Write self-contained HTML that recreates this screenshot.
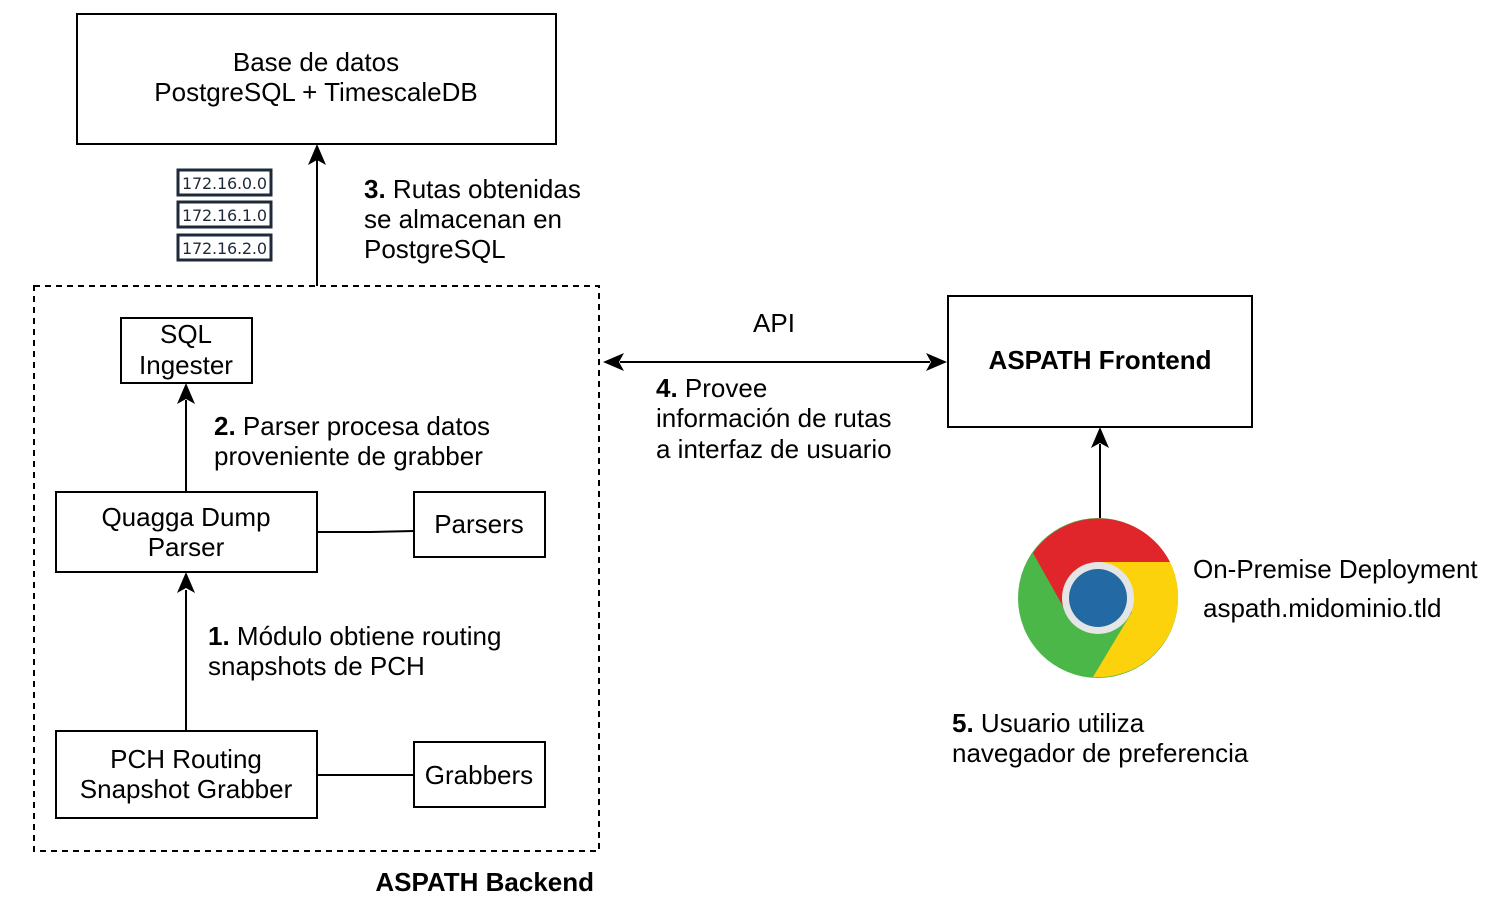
<!DOCTYPE html>
<html><head><style>
html,body{margin:0;padding:0;background:#fff;}
svg{display:block;}
text{font-family:"Liberation Sans",Arial,sans-serif;font-size:26px;fill:#000;}
.ip{font-family:"DejaVu Sans",sans-serif;font-size:16px;fill:#1e2a3a;}
</style></head><body>
<svg width="1486" height="920" viewBox="0 0 1486 920" xmlns="http://www.w3.org/2000/svg">
<g fill="none" stroke="#000" stroke-width="2">
<rect x="77" y="14" width="479" height="130"/>
<rect x="34" y="286" width="565" height="565" stroke-dasharray="6,5"/>
<rect x="121" y="318" width="131" height="65"/>
<rect x="56" y="492" width="261" height="80"/>
<rect x="414" y="492" width="131" height="65"/>
<rect x="56" y="731" width="261" height="87"/>
<rect x="414" y="742" width="131" height="65"/>
<rect x="948" y="296" width="304" height="131"/>
<line x1="317" y1="286" x2="317" y2="160"/>
<line x1="186" y1="492" x2="186" y2="400"/>
<line x1="186" y1="731" x2="186" y2="590"/>
<path d="M317 532 L370 532 L414 531"/>
<line x1="317" y1="775" x2="414" y2="775"/>
<line x1="620" y1="362" x2="930" y2="362"/>
<line x1="1100" y1="518" x2="1100" y2="444"/>
</g>
<g fill="#000">
<path d="M317 144 L308 165 L317 160 L326 165 Z"/>
<path d="M186 383 L177 404 L186 399 L195 404 Z"/>
<path d="M186 572 L177 593 L186 588 L195 593 Z"/>
<path d="M603 362 L624 353 L619 362 L624 371 Z"/>
<path d="M947 362 L926 353 L931 362 L926 371 Z"/>
<path d="M1100 427 L1091 448 L1100 443 L1109 448 Z"/>
</g>
<g fill="#fff" stroke="#1e2a3a" stroke-width="3">
<rect x="178" y="170" width="93" height="25"/>
<rect x="178" y="202" width="93" height="25"/>
<rect x="178" y="235" width="93" height="25"/>
</g>
<text class="ip" x="182" y="189" textLength="85">172.16.0.0</text>
<text class="ip" x="182" y="221" textLength="85">172.16.1.0</text>
<text class="ip" x="182" y="254" textLength="85">172.16.2.0</text>

<text x="316" y="71" text-anchor="middle">Base de datos</text>
<text x="316" y="101" text-anchor="middle">PostgreSQL + TimescaleDB</text>
<text x="364" y="198"><tspan font-weight="bold">3.</tspan> Rutas obtenidas</text>
<text x="364" y="228">se almacenan en</text>
<text x="364" y="258">PostgreSQL</text>
<text x="186" y="343" text-anchor="middle">SQL</text>
<text x="186" y="374" text-anchor="middle">Ingester</text>
<text x="214" y="435"><tspan font-weight="bold">2.</tspan> Parser procesa datos</text>
<text x="214" y="465">proveniente de grabber</text>
<text x="186" y="526" text-anchor="middle">Quagga Dump</text>
<text x="186" y="556" text-anchor="middle">Parser</text>
<text x="479" y="533" text-anchor="middle">Parsers</text>
<text x="208" y="645"><tspan font-weight="bold">1.</tspan> Módulo obtiene routing</text>
<text x="208" y="675">snapshots de PCH</text>
<text x="186" y="768" text-anchor="middle">PCH Routing</text>
<text x="186" y="798" text-anchor="middle">Snapshot Grabber</text>
<text x="479" y="784" text-anchor="middle">Grabbers</text>
<text x="594" y="891" text-anchor="end" font-weight="bold">ASPATH Backend</text>
<text x="774" y="332" text-anchor="middle">API</text>
<text x="656" y="397"><tspan font-weight="bold">4.</tspan> Provee</text>
<text x="656" y="427">información de rutas</text>
<text x="656" y="458">a interfaz de usuario</text>
<text x="1100" y="369" text-anchor="middle" font-weight="bold">ASPATH Frontend</text>
<text x="1193" y="578">On-Premise Deployment</text>
<text x="1203" y="617">aspath.midominio.tld</text>
<text x="952" y="732"><tspan font-weight="bold">5.</tspan> Usuario utiliza</text>
<text x="952" y="762">navegador de preferencia</text>

<circle cx="1098" cy="598" r="80" fill="#4cb749"/>
<path d="M1033 553 A80 80 0 0 1 1170 562 L1098 562 L1065 610 Z" fill="#e0262a"/>
<path d="M1170 562 A80 80 0 0 1 1093 677 L1132 612 L1098 562 Z" fill="#fbd20b"/>
<circle cx="1098" cy="598" r="36" fill="#e5e5e5"/>
<circle cx="1098" cy="598" r="29" fill="#2369a3"/>
</svg>
</body></html>
